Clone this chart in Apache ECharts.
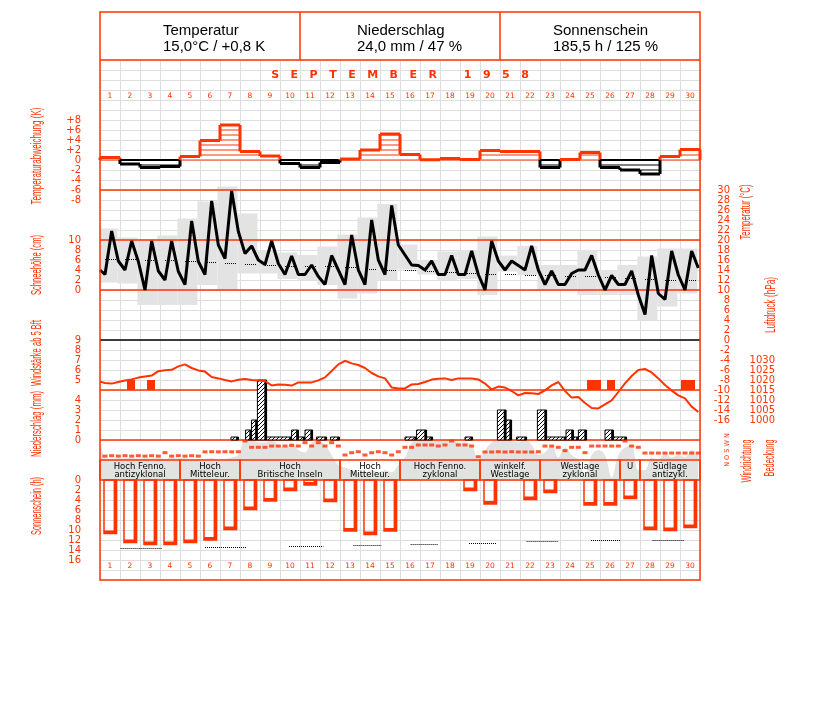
<!DOCTYPE html>
<html><head><meta charset="utf-8">
<script src="https://cdn.jsdelivr.net/npm/echarts/dist/echarts.min.js"></script>
<style>html,body{margin:0;padding:0;background:#fff}#c{width:827px;height:702px}</style>
</head><body><div id="c"></div>
<script>
// ---------------- DATA ----------------
const days = ['1','2','3','4','5','6','7','8','9','10','11','12','13','14','15','16','17','18','19','20','21','22','23','24','25','26','27','28','29','30'];
const obsHours = [6, 14, 22];
const headerTitles = ['Temperatur', 'Niederschlag', 'Sonnenschein'];
const headerValues = ['15,0°C / +0,8 K', '24,0 mm / 47 %', '185,5 h / 125 %'];
const monthTitle = 'S   E   P   T   E   M   B   E   R       1   9   5   8';

// daily mean temperature deviation (K)
const tempDeviation = [0.5,-0.8,-1.5,-1.3,0.7,3.9,7.0,1.7,0.8,-0.7,-1.5,-0.5,0.2,2.0,5.2,1.1,0.05,0.3,0.1,1.9,1.7,1.7,-1.5,0.1,1.5,-1.5,-2.0,-2.8,0.7,2.1];

// temperature observations (°C), 3 per day
const tempStart = 14.0;
const tempObs = [
 [13.1,21.8,15.8],[14.0,19.8,15.7],[10.0,19.8,13.8],[12.0,19.8,13.7],[11.1,23.8,15.7],
 [13.1,27.8,19.0],[16.3,29.8,21.7],[17.3,18.8,16.0],[15.1,19.8,15.3],[13.1,16.8,13.1],
 [13.1,15.0,12.7],[11.1,16.9,14.0],[11.1,21.0,14.0],[11.1,24.0,16.0],[13.1,26.9,19.0],
 [17.0,15.0,14.9],[14.0,15.8,13.1],[13.1,16.9,13.1],[13.1,17.8,13.1],[10.0,19.8,15.8],
 [14.0,15.8,14.9],[14.0,18.8,14.0],[11.1,13.8,11.1],[11.1,13.3,14.0],[14.0,16.9,13.0],
 [10.0,12.9,11.1],[11.1,13.8,9.0],[5.1,16.9,9.3],[8.1,17.8,13.0],[10.0,17.8,14.4]
];
// range boxes (°C) low / high
const tempRangeLow  = [11.5,11.3,7.0,7.0,7.0,11.0,10.0,13.3,13.3,12.2,12.0,11.0,8.3,9.3,12.0,14.1,13.1,12.0,12.2,9.0,13.7,13.0,10.0,10.0,9.0,9.0,9.0,4.0,6.7,9.3];
const tempRangeHigh = [22.3,20.5,20.2,20.9,24.3,27.7,30.7,25.3,18.0,17.5,17.0,18.7,21.1,24.5,27.2,19.1,16.0,17.7,18.0,20.7,16.9,18.8,15.0,15.0,18.0,14.0,15.0,16.7,18.3,18.3];
// normal daily mean (°C)
const tempNormal = [16.3,16.3,16.1,16.0,15.8,15.6,15.5,15.3,15.1,14.9,14.9,14.8,14.7,14.3,14.1,14.0,13.8,13.7,13.5,13.3,13.2,13.1,13.0,12.9,12.8,12.7,12.5,12.3,12.1,12.0];

// air pressure (hPa), 3 per day
const pressStart = 1019.2;
const pressObs = [
 [1018.5,1018.2,1019.0],[1019.7,1020.3,1021.2],[1021.8,1022.2,1024.4],[1024.9,1025.1,1026.8],[1027.8,1026.0,1024.8],
 [1024.2,1021.5,1020.8],[1020.0,1019.3,1020.1],[1020.5,1020.0,1019.7],[1019.5,1017.3,1017.7],[1017.6,1017.2,1018.8],
 [1018.8,1018.8,1019.8],[1021.3,1024.5,1027.8],[1029.6,1028.3,1027.5],[1026.0,1023.5,1021.8],[1020.8,1016.3,1015.8],
 [1015.8,1017.8,1018.0],[1019.0,1020.2,1020.6],[1020.8,1020.0,1020.8],[1020.8,1020.8,1020.3],[1018.2,1015.3,1016.7],
 [1016.2,1014.5,1012.3],[1013.5,1013.4,1013.0],[1014.8,1017.3,1019.0],[1014.5,1011.2,1011.5],[1008.5,1006.0,1005.8],
 [1007.8,1009.8,1014.0],[1018.3,1022.0,1025.0],[1025.5,1023.8,1020.8],[1017.5,1014.7,1012.3],[1010.8,1006.7,1004.0]
];

// wind >= 5 Bft: [from day, to day, Bft]
const windStrong = [[1.35,1.75,5],[2.35,2.75,5],[24.35,25.05,5],[25.35,25.75,5],[29.05,29.75,5]];

// precipitation intervals: [from day, to day, mm]
const precip = [
 [6.55,6.92,0.3],[7.28,7.58,1.0],[7.58,7.87,2.0],[7.87,8.33,6.0],[8.33,9.58,0.3],[9.58,9.92,1.0],
 [9.92,10.25,0.3],[10.25,10.63,1.0],[10.83,11.33,0.3],[11.53,11.97,0.3],[15.25,15.83,0.3],[15.83,16.33,1.0],
 [16.33,16.63,0.3],[18.25,18.63,0.3],[19.87,20.3,3.0],[20.3,20.58,2.0],[20.83,21.33,0.3],[21.87,22.33,3.0],
 [22.33,23.3,0.3],[23.3,23.67,1.0],[23.67,23.92,0.3],[23.92,24.33,1.0],[25.25,25.67,1.0],[25.67,26.33,0.3]
];

// wind direction (deg), 3 per day
const windDir = [
 [80,87,80],[87,80,87],[80,87,80],[136,80,87],[80,87,80],[150,152,150],[152,150,152],[327,224,224],[224,245,245],[245,255,245],
 [300,245,300],[245,300,245],[98,136,152],[98,136,152],[136,98,152],[224,224,262],[262,262,245],[262,327,262],[262,245,70],[147,147,152],
 [147,152,147],[147,147,152],[245,245,224],[169,224,224],[136,245,245],[245,245,245],[327,245,224],[130,130,130],[130,130,130],[130,130,130]
];
// cloud cover (octas), 3 per day
const cloudStart = 8;
const cloudObs = [
 [4.5,4.2,4.4],[4.3,4.5,4.2],[4.4,4.3,4.5],[4.2,4.5,4.3],[4.4,4.0,4.2],[4.2,4.4,4.0],[4.2,4.5,5.0],[8,8,7.5],[7.5,8,7],[6.5,7.5,6],
 [5.5,7.5,7.8],[7,5,3],[2.5,2,1.5],[1.5,2,1.5],[2,1.5,3],[4.5,7.5,8],[8,7.8,8],[8,8,7.5],[7.5,7,4],[6,7.5,8],
 [8,7.8,7.5],[8,7,5],[5.5,7,4.5],[6.5,5,4],[1,5,6],[5,0.5,5],[6.5,7,2],[2,4.5,4],[5.5,4.5,5],[4.5,6,5]
];

// Grosswetterlagen
const gwlNames = ['Hoch Fenno.\nantizyklonal','Hoch\nMitteleur.','Hoch\nBritische Inseln','Hoch\nMitteleur.','Hoch Fenno.\nzyklonal','winkelf.\nWestlage','Westlage\nzyklonal','U','Südlage\nantizykl.'];
const gwlFrom = [1,5,8,13,16,20,23,27,28];
const gwlTo   = [4,7,12,15,19,22,26,27,30];

// sunshine (h)
const sunshine = [10.7,12.5,12.9,12.9,12.5,12.0,9.9,5.9,4.2,2.1,1.0,4.3,10.2,10.9,10.2,0,0,0,2.1,4.8,0,3.9,2.5,0,5.0,5.0,3.7,9.9,10.1,9.5];
// normal sunshine segments [from day, to day, h]
const sunNormal = [[1.03,3.08,13.5],[5.25,7.33,13.3],[9.45,11.17,13.1],[12.67,14.08,12.9],[15.53,16.92,12.7],[18.45,19.8,12.5],[21.33,22.88,12.2],[24.55,26.0,12.0],[27.63,29.2,11.9]];

// tick label sets
const devTicks = [-8,-6,-4,-2,0,2,4,6,8];
const tempTicks = [30,28,26,24,22,20,18,16,14,12,10,8,6,4,2,0,-2,-4,-6,-8,-10,-12,-14,-16];
const snowTicks = [0,2,4,6,8,10];
const windTicks = [5,6,7,8,9];
const precTicks = [0,1,2,3,4];
const pressTicks = [1000,1005,1010,1015,1020,1025,1030];
const sunTicks = [0,2,4,6,8,10,12,14,16];

// ---------------- CHART ----------------
const RED = '#ff3300';
const GRIDC = '#dedede';
const FONT = 'DejaVu Sans';
const chart = echarts.init(document.getElementById('c'), null, {renderer:'canvas'});

function obsSeries(start, obs){
  const out = [[0, start]];
  obs.forEach((row, i) => row.forEach((v, j) => out.push([i + obsHours[j]/24, v])));
  return out;
}
function hx(g, pos){ return {type:'value', gridIndex:g, min:0, max:30, show:false, position:pos||'bottom', splitLine:{show:false}}; }
function yax(g, min, max, interval, o){
  return Object.assign({type:'value', gridIndex:g, min:min, max:max, interval:interval,
    axisLine:{show:false}, axisTick:{show:false}, splitLine:{show:false},
    axisLabel:{show:false}}, o||{});
}
function lab(ticks, margin, align, fmt){
  return {show:true, color:RED, fontSize:10, fontFamily:FONT, margin:margin, align:align,
    showMinLabel:true, showMaxLabel:true,
    formatter: v => ticks.indexOf(v) >= 0 ? (fmt ? fmt(v) : String(v)) : ''};
}

const grids = [
  {left:100, top:60,  width:600, height:380}, // 0 bg upper
  {left:100, top:480, width:600, height:100}, // 1 bg lower
  {left:100, top:60,  width:600, height:30},  // 2 day labels top
  {left:100, top:120, width:600, height:80},  // 3 deviation
  {left:100, top:190, width:600, height:230}, // 4 temperature
  {left:100, top:340, width:600, height:50},  // 5 wind
  {left:100, top:340, width:600, height:80},  // 6 pressure
  {left:100, top:380, width:600, height:60},  // 7 precipitation
  {left:100, top:439, width:600, height:22},  // 8 wind direction
  {left:100, top:440, width:600, height:40},  // 9 cloud cover
  {left:100, top:460, width:600, height:20},  // 10 weather types
  {left:100, top:480, width:600, height:80}   // 11 sunshine
].map(g => Object.assign({containLabel:false, outerBoundsMode:'none', show:false}, g));

const dayLabel = {color:RED, fontSize:7.5, fontFamily:FONT, margin:2, interval:0};
const xAxes = [
  {type:'value', gridIndex:0, min:0, max:30, interval:1, axisLine:{show:false}, axisTick:{show:false}, axisLabel:{show:false}, splitLine:{show:true, lineStyle:{color:GRIDC, width:1}}},
  {type:'value', gridIndex:1, min:0, max:30, interval:1, axisLine:{show:false}, axisTick:{show:false}, axisLabel:{show:false}, splitLine:{show:true, lineStyle:{color:GRIDC, width:1}}},
  {type:'category', gridIndex:2, data:days, position:'bottom', axisLine:{show:false}, axisTick:{show:false}, splitLine:{show:false}, axisLabel:dayLabel},
  hx(3), hx(4), hx(5), hx(6), hx(7), hx(8), hx(9), hx(10), hx(11,'top'),
  {type:'category', gridIndex:11, data:days, position:'bottom', axisLine:{show:false}, axisTick:{show:false}, splitLine:{show:false}, axisLabel:dayLabel}
];

const yAxes = [
  {type:'value', gridIndex:0, min:0, max:38, interval:1, axisLine:{show:false}, axisTick:{show:false}, axisLabel:{show:false}, splitLine:{show:true, lineStyle:{color:GRIDC, width:1}}},
  {type:'value', gridIndex:1, min:0, max:10, interval:1, axisLine:{show:false}, axisTick:{show:false}, axisLabel:{show:false}, splitLine:{show:true, lineStyle:{color:GRIDC, width:1}}},
  yax(2, 0, 1, 1),
  yax(3, -8, 8, 2, {position:'left', axisLabel: lab(devTicks, 19, 'right', v => v > 0 ? '+' + v : String(v))}),
  yax(4, -16, 30, 2, {position:'right', axisLabel: lab(tempTicks, 30, 'right')}),
  yax(4, -26, 20, 2, {position:'left', axisLabel: lab(snowTicks, 19, 'right')}),
  yax(5, 4, 9, 1, {position:'left', axisLabel: lab(windTicks, 19, 'right')}),
  yax(6, 1000, 1040, 5, {position:'right', axisLabel: lab(pressTicks, 75, 'right')}),
  yax(7, 0, 6, 1, {position:'left', axisLabel: lab(precTicks, 19, 'right')}),
  yax(8, 0, 360, 90),
  yax(9, 0, 8, 1),
  yax(10, 0, 1, 1),
  yax(11, 0, 16, 2, {inverse:true, position:'left', axisLabel: lab(sunTicks, 19, 'right')})
];

// hatch pattern
const pc = document.createElement('canvas'); pc.width = 4; pc.height = 4;
const pctx = pc.getContext('2d'); pctx.fillStyle = '#fff'; pctx.fillRect(0,0,4,4);
pctx.fillStyle = '#000'; for (let i = 0; i < 4; i++) pctx.fillRect(i, 3 - i, 1, 1);
const hatch = {image: pc, repeat: 'repeat'};

function renderDev(params, api){
  const i = params.dataIndexInside;
  const d = api.value(0), v = api.value(1);
  const n = params.dataInsideLength;
  const prev = i > 0 ? api.value(1, i - 1) : 0;
  const next = i < n - 1 ? api.value(1, i + 1) : 0;
  const p0 = api.coord([d - 1, 0]), p1 = api.coord([d, v]);
  const x0 = p0[0], x1 = p1[0], y0 = p0[1], y1 = p1[1];
  const col = v >= 0 ? RED : '#000';
  const ch = [];
  ch.push({type:'rect', shape:{x:x0, y:Math.min(y0,y1), width:x1-x0, height:Math.abs(y1-y0)}, style:{fill:'#fff'}});
  const s = v >= 0 ? 1 : -1;
  for (let k = 0; k <= Math.floor(Math.abs(v)); k++) {
    const yy = api.coord([0, s * k])[1];
    ch.push({type:'line', shape:{x1:x0, y1:yy, x2:x1, y2:yy}, style:{stroke:col, lineWidth: (k === 0 && s < 0) ? 2 : 1}});
  }
  function sideFrom(nb){ return (nb * v > 0) ? (Math.abs(nb) < Math.abs(v) ? nb : null) : 0; }
  const ls = sideFrom(prev), rs = sideFrom(next);
  if (ls !== null) ch.push({type:'line', shape:{x1:x0, y1:api.coord([0, ls])[1], x2:x0, y2:y1}, style:{stroke:col, lineWidth:3}});
  if (rs !== null) ch.push({type:'line', shape:{x1:x1, y1:api.coord([0, rs])[1], x2:x1, y2:y1}, style:{stroke:col, lineWidth:3}});
  ch.push({type:'line', shape:{x1:x0, y1:y1, x2:x1, y2:y1}, style:{stroke:col, lineWidth:3}});
  return {type:'group', children:ch};
}
function renderRange(params, api){
  const d = api.value(0), lo = api.value(1), hi = api.value(2);
  const a = api.coord([d - 1 - 0.13, hi]), b = api.coord([d - 0.13, lo]);
  const x0 = Math.max(a[0], params.coordSys.x);
  return {type:'rect', shape:{x:x0, y:a[1], width:b[0]-x0, height:b[1]-a[1]}, style:{fill:'#e3e3e3'}};
}
function renderNormal(params, api){
  const d = api.value(0), v = api.value(1);
  const a = api.coord([d - 1 + 0.25, v]), b = api.coord([d - 1 + 0.8, v]);
  return {type:'line', shape:{x1:a[0], y1:Math.round(a[1])+0.5, x2:b[0], y2:Math.round(a[1])+0.5}, style:{stroke:'#000', lineWidth:1, lineDash:[1,1]}};
}
function renderWind(params, api){
  const a = api.coord([api.value(0), api.value(2)]), b = api.coord([api.value(1), 4]);
  return {type:'rect', shape:{x:a[0], y:a[1], width:b[0]-a[0], height:b[1]-a[1]}, style:{fill:RED}};
}
function renderPrec(params, api){
  const a = api.coord([api.value(0), api.value(2)]), b = api.coord([api.value(1), 0]);
  const w = b[0]-a[0], h = b[1]-a[1];
  return {type:'group', children:[
    {type:'rect', shape:{x:a[0], y:a[1], width:w, height:h}, style:{fill:hatch, stroke:'#000', lineWidth:1}},
    {type:'line', shape:{x1:b[0]-1, y1:a[1], x2:b[0]-1, y2:b[1]}, style:{stroke:'#000', lineWidth:2.5}}
  ]};
}
function renderGwl(params, api){
  const i = api.value(2);
  const a = api.coord([api.value(0) - 1, 1]), b = api.coord([api.value(1), 0]);
  return {type:'group', children:[
    {type:'rect', shape:{x:a[0], y:a[1], width:b[0]-a[0], height:b[1]-a[1]}, style:{fill:'none', stroke:RED, lineWidth:1.5}},
    {type:'text', x:(a[0]+b[0])/2, y:a[1] + 2.5, style:{text:gwlNames[i], fill:'#000', fontSize:8.5, fontFamily:FONT, lineHeight:8, align:'center', verticalAlign:'top'}}
  ]};
}
function renderSun(params, api){
  const d = api.value(0), v = api.value(1);
  if (!v) return null;
  const a = api.coord([d - 1 + 0.2, 0]), b = api.coord([d - 1 + 0.83, v]);
  return {type:'group', children:[
    {type:'rect', shape:{x:a[0], y:a[1], width:b[0]-a[0], height:b[1]-a[1]}, style:{fill:'none', stroke:RED, lineWidth:1.5}},
    {type:'line', shape:{x1:b[0]-1.5, y1:a[1], x2:b[0]-1.5, y2:b[1]}, style:{stroke:RED, lineWidth:3}},
    {type:'line', shape:{x1:a[0], y1:b[1]-1.5, x2:b[0], y2:b[1]-1.5}, style:{stroke:RED, lineWidth:3}}
  ]};
}
function renderSunNormal(params, api){
  const a = api.coord([api.value(0), api.value(2)]), b = api.coord([api.value(1), api.value(2)]);
  const y = Math.round(a[1]) + 0.5;
  return {type:'line', shape:{x1:a[0], y1:y, x2:b[0], y2:y}, style:{stroke:'#000', lineWidth:1, lineDash:[1,1]}};
}

const redLine = {color:RED, width:1.5, type:'solid'};
const series = [
  {type:'custom', name:'Temperaturabweichung', xAxisIndex:3, yAxisIndex:3, renderItem:renderDev, z:5,
    data: tempDeviation.map((v,i) => [i+1, v])},
  {type:'custom', name:'Spanne', xAxisIndex:4, yAxisIndex:4, renderItem:renderRange, z:3,
    data: tempRangeLow.map((v,i) => [i+1, v, tempRangeHigh[i]])},
  {type:'custom', name:'Normal', xAxisIndex:4, yAxisIndex:4, renderItem:renderNormal, z:4,
    data: tempNormal.map((v,i) => [i+1, v])},
  {type:'line', name:'Temperatur', xAxisIndex:4, yAxisIndex:4, showSymbol:false, symbol:'none', z:6,
    lineStyle:{color:'#000', width:3}, data: obsSeries(tempStart, tempObs),
    markLine:{silent:true, symbol:'none', label:{show:false}, animation:false,
      data:[{yAxis:30, lineStyle:redLine},{yAxis:20, lineStyle:redLine},{yAxis:10, lineStyle:redLine},{yAxis:0, lineStyle:{color:'#000', width:1.5, type:'solid'}}]}},
  {type:'custom', name:'Wind', xAxisIndex:5, yAxisIndex:6, renderItem:renderWind, z:5, data: windStrong},
  {type:'line', name:'Luftdruck', xAxisIndex:6, yAxisIndex:7, showSymbol:false, symbol:'none', z:6,
    lineStyle:{color:RED, width:2}, data: obsSeries(pressStart, pressObs),
    markLine:{silent:true, symbol:'none', label:{show:false}, animation:false, data:[{yAxis:1015, lineStyle:redLine}]}},
  {type:'custom', name:'Niederschlag', xAxisIndex:7, yAxisIndex:8, renderItem:renderPrec, z:5, data: precip,
    markLine:{silent:true, symbol:'none', label:{show:false}, animation:false, data:[{yAxis:0, lineStyle:redLine}]}},
  {type:'line', name:'Bedeckung', xAxisIndex:9, yAxisIndex:10, showSymbol:false, symbol:'none', z:2, smooth:0.35,
    lineStyle:{width:0, color:'#e2e2e2'}, areaStyle:{color:'#e2e2e2', opacity:1}, data: obsSeries(cloudStart, cloudObs)},
  {type:'scatter', name:'Windrichtung', xAxisIndex:8, yAxisIndex:9, symbol:'rect', symbolSize:[5,3], z:6,
    itemStyle:{color:RED}, data: (() => { const o=[]; windDir.forEach((r,i)=>r.forEach((v,j)=>o.push([i+obsHours[j]/24, v]))); return o; })()},
  {type:'custom', name:'Wetterlage', xAxisIndex:10, yAxisIndex:11, renderItem:renderGwl, z:7,
    data: gwlNames.map((n,i) => [gwlFrom[i], gwlTo[i], i])},
  {type:'custom', name:'Sonnenschein', xAxisIndex:11, yAxisIndex:12, renderItem:renderSun, z:5,
    data: sunshine.map((v,i) => [i+1, v])},
  {type:'custom', name:'Sonnenschein normal', xAxisIndex:11, yAxisIndex:12, renderItem:renderSunNormal, z:5,
    data: sunNormal}
];

// measure text for condensed rotated titles
const mctx = document.createElement('canvas').getContext('2d');
function vtitle(text, cx, cy, len, size){
  mctx.font = size + 'px "Liberation Sans"';
  const w = mctx.measureText(text).width;
  return {type:'text', x:cx, y:cy, rotation:Math.PI/2, scaleX: len / w, scaleY: 1, z:100,
    style:{text:text, fill:RED, font: size + 'px "Liberation Sans"', align:'center', verticalAlign:'middle'}};
}

const graphic = [
  {type:'rect', shape:{x:100, y:12, width:600, height:568}, style:{fill:'none', stroke:RED, lineWidth:1.5}, z:100},
  {type:'line', shape:{x1:300, y1:12, x2:300, y2:60}, style:{stroke:RED, lineWidth:1.5}, z:100},
  {type:'line', shape:{x1:500, y1:12, x2:500, y2:60}, style:{stroke:RED, lineWidth:1.5}, z:100},
  {type:'line', shape:{x1:100, y1:60, x2:700, y2:60}, style:{stroke:RED, lineWidth:1.5}, z:100},
  {type:'text', x:400, y:75, z:100, style:{text:monthTitle, fill:RED, font:'bold 11px "DejaVu Sans"', align:'center', verticalAlign:'middle'}},
  vtitle('Temperaturabweichung (K)', 37, 156, 97, 15),
  vtitle('Schneehöhe (cm)', 37, 265, 60, 15),
  vtitle('Windstärke ab 5 Bft', 37, 353, 66, 15),
  vtitle('Niederschlag (mm)', 37, 424, 66, 15),
  vtitle('Sonnenschein (h)', 37, 506, 58, 15),
  vtitle('Temperatur (°C)', 746, 212, 55, 15),
  vtitle('Luftdruck (hPa)', 771, 305, 56, 15),
  vtitle('Windrichtung', 747, 461, 43, 15),
  vtitle('Bedeckung', 770, 458, 37, 15),
  {type:'text', x:727, y:450, rotation:Math.PI/2, z:100, style:{text:'N O S W N', fill:RED, font:'6.5px "DejaVu Sans"', align:'center', verticalAlign:'middle'}}
];
const headerLeft = [163, 357, 553];
headerTitles.forEach((t, i) => {
  graphic.push({type:'text', x:headerLeft[i], y:31, z:100, style:{text:t, fill:'#000', font:'15px "Liberation Sans"', align:'left', verticalAlign:'middle'}});
  graphic.push({type:'text', x:headerLeft[i], y:47, z:100, style:{text:headerValues[i], fill:'#000', font:'15px "Liberation Sans"', align:'left', verticalAlign:'middle'}});
});

chart.setOption({
  animation:false,
  backgroundColor:'#fff',
  grid: grids, xAxis: xAxes, yAxis: yAxes, series: series, graphic: graphic
});
</script></body></html>
